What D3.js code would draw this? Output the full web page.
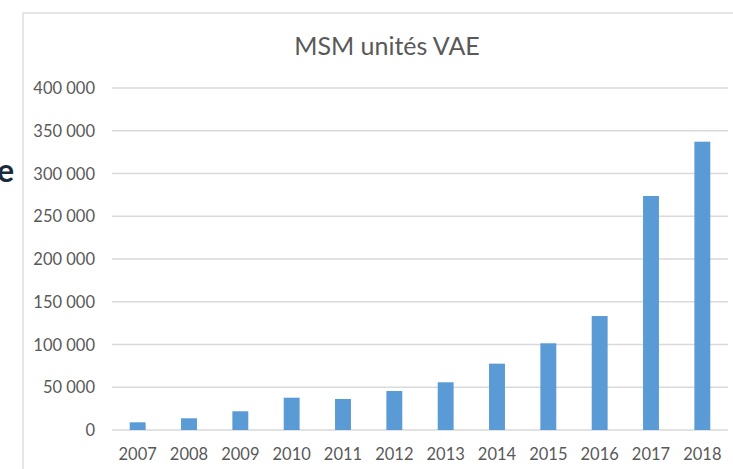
<!DOCTYPE html>
<html>
<head>
<meta charset="utf-8">
<script src="https://cdn.jsdelivr.net/npm/d3@7"></script>
<style>
  body { margin: 0; background: #fff; }
  svg { display: block; font-family: Lato, "Open Sans", sans-serif; }
</style>
</head>
<body>
<svg id="canvas" width="733" height="469"></svg>
<script>
const years = ["2007", "2008", "2009", "2010", "2011", "2012", "2013", "2014", "2015", "2016", "2017", "2018"];
const units = [9000, 13700, 21900, 37800, 36300, 45600, 55800, 77600, 101400, 133300, 273700, 337200];
const yTicks = [0, 50000, 100000, 150000, 200000, 250000, 300000, 350000, 400000];

const svg = d3.select("#canvas");
const plotLeft = 112, plotRight = 728, plotTop = 88, plotBottom = 430;

// slide text clipped on the left edge
svg.append("text")
  .attr("x", 14)
  .attr("y", 182)
  .attr("text-anchor", "end")
  .attr("font-size", 32)
  .attr("font-weight", "bold")
  .attr("fill", "#1c2b3a")
  .text("e");

// chart frame
svg.append("rect")
  .attr("x", 23)
  .attr("y", 13)
  .attr("width", 740)
  .attr("height", 500)
  .attr("fill", "none")
  .attr("stroke", "#d9d9d9")
  .attr("stroke-width", 1.3);

const x = d3.scaleBand()
  .domain(years)
  .range([plotLeft, plotRight])
  .paddingInner(0.69)
  .paddingOuter(0.345);

const y = d3.scaleLinear()
  .domain([0, 400000])
  .range([plotBottom, plotTop]);

const fmt = (d) => d3.format(",")(d).replace(/,/g, " ");

svg.selectAll("line.grid")
  .data(yTicks)
  .enter()
  .append("line")
  .attr("class", "grid")
  .attr("x1", plotLeft)
  .attr("x2", plotRight)
  .attr("y1", (d) => y(d))
  .attr("y2", (d) => y(d))
  .attr("stroke", "#d9d9d9")
  .attr("stroke-width", 1.3);

svg.selectAll("text.ylab")
  .data(yTicks)
  .enter()
  .append("text")
  .attr("class", "ylab")
  .attr("x", 95)
  .attr("y", (d) => y(d) + 6)
  .attr("text-anchor", "end")
  .attr("font-size", 16.5)
  .attr("fill", "#595959")
  .text((d) => fmt(d));

svg.selectAll("rect.bar")
  .data(units)
  .enter()
  .append("rect")
  .attr("class", "bar")
  .attr("x", (d, i) => x(years[i]))
  .attr("width", x.bandwidth())
  .attr("y", (d) => y(d))
  .attr("height", (d) => y(0) - y(d))
  .attr("fill", "#5b9bd5");

svg.selectAll("text.xlab")
  .data(years)
  .enter()
  .append("text")
  .attr("class", "xlab")
  .attr("x", (d) => x(d) + x.bandwidth() / 2)
  .attr("y", 460)
  .attr("text-anchor", "middle")
  .attr("font-size", 16.5)
  .attr("fill", "#595959")
  .text((d) => d);

svg.append("text")
  .attr("x", 387)
  .attr("y", 55)
  .attr("text-anchor", "middle")
  .attr("font-size", 25)
  .attr("fill", "#595959")
  .text("MSM unités VAE");
</script>
</body>
</html>
